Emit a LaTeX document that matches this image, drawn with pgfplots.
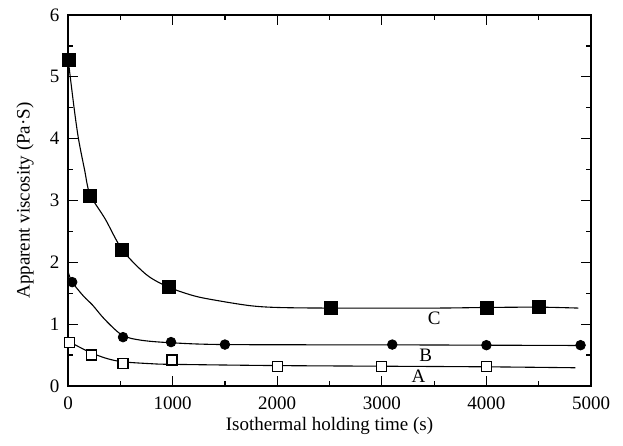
\documentclass[border=0pt]{standalone}
\usepackage{fontspec}
\setmainfont{Liberation Serif}
\usepackage{pgfplots}
\pgfplotsset{compat=1.18}
\begin{document}
\fontsize{9.5}{11}\selectfont
\begin{tikzpicture}
\begin{axis}[
 scale only axis, width=261.5pt, height=185.5pt,
 xmin=0,xmax=5000,ymin=0,ymax=6,
 xtick={0,1000,...,5000}, minor x tick num=1,
 ytick={0,1,...,6}, minor y tick num=1,
 tick align=inside, major tick length=5pt, minor tick length=2.5pt,
 tick style={black, line width=0.6pt},
 axis line style={line width=0.7pt},
 scaled x ticks=false,
 xticklabel style={/pgf/number format/1000 sep={}, yshift=-2pt},
 yticklabel style={xshift=-1pt},
 /pgf/number format/assume math mode=true,
 font=\fontsize{9.5}{11}\selectfont,
 xlabel={Isothermal holding time (s)},
 ylabel={Apparent viscosity (Pa·S)},
 xlabel style={at={(axis description cs:0.5,-0.1078)}, anchor=center},
 ylabel style={at={(axis description cs:-0.0822,0.5)}, anchor=center},
 clip=false,
]
% fitted curves
\addplot[black, line width=0.55pt, smooth, no markers] coordinates {
 (0,5.3)(58,4.5)(100,4.0)(158,3.5)(210,3.1)(356,2.7)(520,2.2)(750,1.8)(960,1.6)(1200,1.46)(1400,1.39)(1735,1.30)(2000,1.27)(2500,1.26)(3500,1.26)(4000,1.27)(4500,1.275)(4880,1.26)};
\addplot[black, line width=0.55pt, smooth, no markers] coordinates {
 (0,1.85)(40,1.68)(150,1.45)(234,1.31)(355,1.07)(520,0.82)(700,0.74)(980,0.70)(1500,0.67)(3100,0.665)(4000,0.66)(4900,0.655)};
\addplot[black, line width=0.55pt, smooth, no markers] coordinates {
 (0,0.76)(20,0.71)(120,0.62)(230,0.53)(380,0.44)(530,0.39)(800,0.36)(1000,0.35)(2000,0.33)(3000,0.32)(4000,0.31)(4850,0.295)};
% data points
\addplot[only marks, mark=square*, mark size=3.25pt, mark options={fill=black, draw=black}] coordinates {
 (10,5.28)(210,3.08)(520,2.2)(960,1.6)(2510,1.26)(4000,1.27)(4500,1.28)};
\addplot[only marks, mark=*, mark size=2.4pt, mark options={fill=black, draw=black}] coordinates {
 (40,1.68)(526,0.79)(985,0.71)(1500,0.67)(3100,0.67)(4000,0.66)(4900,0.66)};
\addplot[only marks, mark=square*, mark size=2.5pt, mark options={fill=white, draw=black, line width=0.6pt}] coordinates {
 (15,0.70)(228,0.50)(526,0.37)(994,0.42)(2000,0.32)(3000,0.32)(4000,0.31)};
\node at (axis cs:3500,1.10) {C};
\node at (axis cs:3420,0.50) {B};
\node at (axis cs:3350,0.16) {A};
\end{axis}
\pgfresetboundingbox
\path ([xshift=-34pt,yshift=-30pt]current axis.south west) rectangle ([xshift=16pt,yshift=7.5pt]current axis.north east);
\end{tikzpicture}
\end{document}
